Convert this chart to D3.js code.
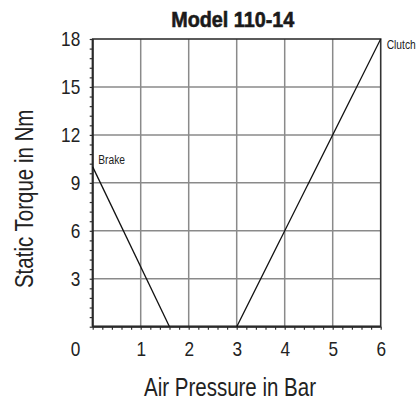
<!DOCTYPE html>
<html>
<head>
<meta charset="utf-8">
<script src="https://cdn.jsdelivr.net/npm/d3@7"></script>
<style>
  html, body { margin: 0; padding: 0; background: #fff; }
  svg { display: block; }
  .narrow { font-family: "Liberation Sans", Arial, sans-serif; }
</style>
</head>
<body>
<svg id="chart" width="417" height="400"></svg>
<script>
// Static torque curves for Model 110-14
const chartTitle = "Model 110-14";
const xTitle = "Air Pressure in Bar";
const yTitle = "Static Torque in Nm";

const xTicks = [1, 2, 3, 4, 5, 6];
const yTicks = [3, 6, 9, 12, 15, 18];
const originLabel = "0";

const seriesNames = ["Brake", "Clutch"];
const brakePressure = [0, 1.6];
const brakeTorque = [10, 0];
const clutchPressure = [3, 6];
const clutchTorque = [0, 18];

const W = 417, H = 400;
const margin = { top: 39, right: 36.3, bottom: 73.3, left: 92.7 };
const innerW = W - margin.left - margin.right;
const innerH = H - margin.top - margin.bottom;
const SQ = 0.82; // horizontal squeeze that gives a condensed face

const svg = d3.select("#chart");
const g = svg.append("g").attr("transform", `translate(${margin.left},${margin.top})`);

const x = d3.scaleLinear().domain([0, 6]).range([0, innerW]);
const y = d3.scaleLinear().domain([0, 18]).range([innerH, 0]);

// condensed text at (px, py) in the given parent
function narrowText(parent, px, py, str, size, anchor, rotate) {
  return parent.append("text").attr("class", "narrow")
    .attr("transform", `translate(${px},${py})${rotate ? ` rotate(${rotate})` : ""} scale(${SQ},1)`)
    .attr("text-anchor", anchor || "start")
    .attr("font-size", size).attr("fill", "#222").text(str);
}

// grid
g.append("g").selectAll("line").data(xTicks.slice(0, -1)).join("line")
  .attr("x1", d => x(d)).attr("x2", d => x(d))
  .attr("y1", 0).attr("y2", innerH)
  .attr("stroke", "#8a8a8a").attr("stroke-width", 1.5);
g.append("g").selectAll("line").data(yTicks.slice(0, -1)).join("line")
  .attr("x1", 0).attr("x2", innerW)
  .attr("y1", d => y(d)).attr("y2", d => y(d))
  .attr("stroke", "#8a8a8a").attr("stroke-width", 1.5);

// minor ticks
const xMinor = d3.range(0, 31).map(i => i * 0.2);
const yMinor = d3.range(0, 31).map(i => i * 0.6);
g.append("g").attr("transform", `translate(0,${innerH})`)
  .call(d3.axisBottom(x).tickValues(xMinor).tickSize(3).tickFormat(""))
  .call(a => a.select(".domain").remove())
  .selectAll("line").attr("stroke", "#333").attr("stroke-width", 1.2);
g.append("g")
  .call(d3.axisLeft(y).tickValues(yMinor).tickSize(3).tickFormat(""))
  .call(a => a.select(".domain").remove())
  .selectAll("line").attr("stroke", "#333").attr("stroke-width", 1.2);

// major tick labels
const xg = g.append("g").attr("transform", `translate(0,${innerH})`)
  .call(d3.axisBottom(x).tickValues(xTicks).tickSize(0).tickPadding(14).tickFormat(d3.format("d")));
const yg = g.append("g")
  .call(d3.axisLeft(y).tickValues(yTicks).tickSize(0).tickPadding(12.5).tickFormat(d3.format("d")));
[xg, yg].forEach(a => {
  a.select(".domain").remove();
  a.selectAll("text").each(function () {
    const t = d3.select(this);
    const ox = +t.attr("x") || 0;
    t.attr("class", "narrow").attr("font-size", 21).attr("fill", "#222")
      .attr("x", ox / SQ).attr("transform", `scale(${SQ},1)`);
  });
});
// origin label, on the x-label row next to the y labels
narrowText(g, x(0) - 12.5, innerH + 14, originLabel, 21, "end").attr("dy", "0.71em");

// frame
g.append("rect").attr("x", 0).attr("y", 0).attr("width", innerW).attr("height", innerH)
  .attr("fill", "none").attr("stroke", "#333").attr("stroke-width", 1.6);
g.append("line").attr("x1", 0).attr("x2", innerW).attr("y1", innerH).attr("y2", innerH)
  .attr("stroke", "#2a2a2a").attr("stroke-width", 2.2);
g.append("line").attr("x1", 0).attr("x2", 0).attr("y1", 0).attr("y2", innerH)
  .attr("stroke", "#2a2a2a").attr("stroke-width", 2);

// curves
const line = d3.line().x(d => x(d[0])).y(d => y(d[1]));
g.append("path").datum(d3.zip(brakePressure, brakeTorque)).attr("d", line)
  .attr("fill", "none").attr("stroke", "#111").attr("stroke-width", 1.3);
g.append("path").datum(d3.zip(clutchPressure, clutchTorque)).attr("d", line)
  .attr("fill", "none").attr("stroke", "#111").attr("stroke-width", 1.3);

// curve names
narrowText(g, x(brakePressure[0]) + 5.5, y(brakeTorque[0]) - 3, seriesNames[0], 12.5);
narrowText(g, x(clutchPressure[1]) + 6, y(clutchTorque[1]) + 10.3, seriesNames[1], 12.5);

// titles
svg.append("text")
  .attr("transform", "translate(232.8,26.7) scale(0.9,1)").attr("text-anchor", "middle")
  .attr("font-family", "'Liberation Sans', Arial, sans-serif")
  .attr("font-weight", "bold").attr("font-size", 22).attr("fill", "#1a1a1a")
  .attr("stroke", "#1a1a1a").attr("stroke-width", 0.6)
  .text(chartTitle);
narrowText(svg, 230, 396, xTitle, 25, "middle");
narrowText(svg, 33, 198.8, yTitle, 25, "middle", -90);
</script>
</body>
</html>
